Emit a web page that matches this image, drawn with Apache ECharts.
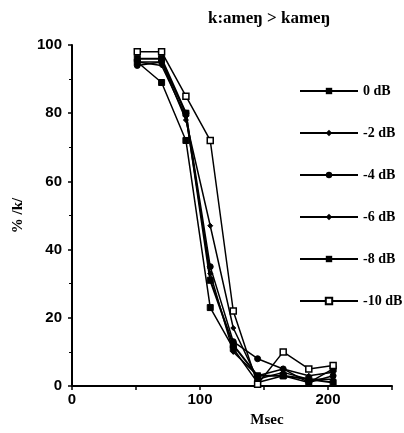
<!DOCTYPE html>
<html><head><meta charset="utf-8">
<script src="https://cdn.jsdelivr.net/npm/echarts@6/dist/echarts.min.js"></script>
<style>html,body{margin:0;padding:0;background:#fff}#c{width:404px;height:433px}</style>
</head><body><div id="c"></div>
<script>
const xValues = [51, 70, 89, 108, 126, 145, 165, 185, 204];
const seriesNames = ['0 dB', '-2 dB', '-4 dB', '-6 dB', '-8 dB', '-10 dB'];
const db0   = [96, 96, 80, 31, 12, 3, 3, 2, 1];
const db2   = [95, 95, 78, 47, 17, 2, 4, 2, 2];
const db4   = [94, 95, 80, 35, 13, 8, 5, 1, 3];
const db6   = [95, 94, 79, 33, 10, 3, 5, 3, 4];
const db8   = [95, 89, 72, 23, 11, 1, 3, 1, 5];
const db10  = [98, 98, 85, 72, 22, 0.5, 10, 5, 6];
const xTickLabels = ['0', '100', '200'];
const yTickLabels = ['0', '20', '40', '60', '80', '100'];

const allData = [db0, db2, db4, db6, db8, db10];
const symbols = ['rect', 'diamond', 'circle', 'diamond', 'rect', 'rect'];
const sizes = [6, 5, 6, 5, 6, 6];

const chart = echarts.init(document.getElementById('c'));
const serif = 'Liberation Serif';
chart.setOption({
  animation: false,
  backgroundColor: '#fff',
  title: {
    text: 'k:ameŋ > kameŋ',
    left: 203, top: 5,
    textStyle: {fontFamily: serif, fontWeight: 'bold', fontSize: 17, color: '#000'}
  },
  legend: {
    orient: 'vertical',
    left: 294, top: 79,
    itemWidth: 58, itemHeight: 8, itemGap: 28,
    textStyle: {fontFamily: serif, fontWeight: 'bold', fontSize: 14, color: '#000'},
    data: seriesNames
  },
  grid: {left: 72, top: 45, right: 12, bottom: 42},
  xAxis: {
    type: 'value', min: 0, max: 250, interval: 50,
    name: 'Msec', nameLocation: 'middle', nameGap: 27,
    nameTextStyle: {fontFamily: serif, fontWeight: 'bold', fontSize: 15, color: '#000', padding: [0, 0, 0, 70]},
    axisLine: {lineStyle: {color: '#000', width: 2}},
    axisTick: {show: true, length: 4, lineStyle: {color: '#000', width: 1.5}},
    splitLine: {show: false},
    axisLabel: {
      color: '#000', fontWeight: 'bold', fontSize: 15, fontFamily: 'Liberation Sans', margin: 6,
      formatter: v => xTickLabels.includes(String(v)) ? String(v) : ''
    }
  },
  yAxis: {
    type: 'value', min: 0, max: 100, interval: 20,
    name: '% /k/', nameLocation: 'middle', nameGap: 46, nameRotate: 90,
    nameTextStyle: {fontFamily: serif, fontWeight: 'bold', fontSize: 15, color: '#000'},
    axisLine: {show: true, lineStyle: {color: '#000', width: 2}},
    axisTick: {show: true, length: 4, lineStyle: {color: '#000', width: 1.5}},
    minorTick: {show: true, splitNumber: 2, length: 3, lineStyle: {color: '#000'}},
    splitLine: {show: false},
    axisLabel: {
      color: '#000', fontWeight: 'bold', fontSize: 15, fontFamily: 'Liberation Sans', margin: 10,
      formatter: v => yTickLabels.includes(String(v)) ? String(v) : ''
    }
  },
  series: seriesNames.map((n, i) => ({
    name: n,
    type: 'line',
    data: xValues.map((x, j) => [x, allData[i][j]]),
    symbol: symbols[i],
    symbolSize: sizes[i],
    showAllSymbol: true,
    lineStyle: {color: '#000', width: i === 0 ? 2 : 1.5},
    itemStyle: i === 5
      ? {color: '#fff', borderColor: '#000', borderWidth: 1.5}
      : {color: '#000', borderColor: '#000'}
  }))
});
</script></body></html>
